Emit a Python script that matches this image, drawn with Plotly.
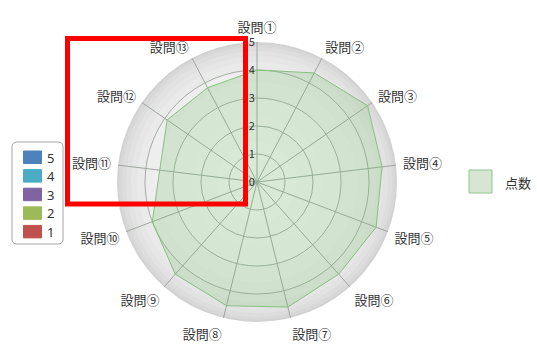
import plotly.graph_objects as go

W, H = 537, 347

# ---- data ----
categories = ["設問①", "設問②", "設問③", "設問④", "設問⑤", "設問⑥", "設問⑦",
              "設問⑧", "設問⑨", "設問⑩", "設問⑪", "設問⑫", "設問⑬"]
scores = [4.0, 4.4, 4.8, 4.5, 4.55, 4.4, 4.6, 4.55, 4.4, 4.0, 3.5, 3.9, 3.8]
series_name = "点数"
radial_ticks = [0, 1, 2, 3, 4, 5]
side_legend_labels = ["5", "4", "3", "2", "1"]
side_legend_colors = ["#4f81bd", "#4bacc6", "#8064a2", "#9bbb59", "#c0504d"]

FONT = "Noto Sans CJK JP, Noto Sans, sans-serif"
TXT = "#333333"

# layout geometry (pixels)
CX, CY, R = 257, 182, 140


def px(x):
    return x / W


def py(y):
    return 1 - y / H


fig = go.Figure()
fig.add_trace(go.Scatterpolar(
    r=scores + scores[:1],
    theta=categories + categories[:1],
    mode="lines",
    fill="toself",
    fillcolor="rgba(125,190,115,0.26)",
    line=dict(color="#86c07e", width=1),
    name=series_name,
    showlegend=False,
    hoverinfo="skip",
))

shapes = []
# radial gradient background disc
grad = [(140, "#d2d2d2"), (138, "#d8d8d8"), (135, "#dddddd"), (131, "#e2e2e2"),
        (126, "#e6e6e6"), (120, "#eaeaea"), (112, "#eeeeee"), (100, "#f1f1f1"),
        (85, "#f4f4f4"), (65, "#f6f6f6"), (40, "#f8f8f8")]
for rr, col in grad:
    shapes.append(dict(type="circle", layer="below",
                       xref="paper", yref="paper",
                       xsizemode="pixel", ysizemode="pixel",
                       xanchor=px(CX), yanchor=py(CY),
                       x0=-rr, x1=rr, y0=-rr, y1=rr,
                       fillcolor=col, line=dict(width=0)))

# right legend swatch
shapes.append(dict(type="rect", xref="paper", yref="paper",
                   x0=px(469), x1=px(492), y0=py(170), y1=py(193),
                   fillcolor="#d6e6d3", line=dict(color="#92c48b", width=1)))

# left legend box (rounded)
bx0, bx1, by0, by1, rad = 12, 63, 142, 244, 5
path = (f"M{px(bx0 + rad)},{py(by0)} L{px(bx1 - rad)},{py(by0)} "
        f"Q{px(bx1)},{py(by0)} {px(bx1)},{py(by0 + rad)} "
        f"L{px(bx1)},{py(by1 - rad)} Q{px(bx1)},{py(by1)} {px(bx1 - rad)},{py(by1)} "
        f"L{px(bx0 + rad)},{py(by1)} Q{px(bx0)},{py(by1)} {px(bx0)},{py(by1 - rad)} "
        f"L{px(bx0)},{py(by0 + rad)} Q{px(bx0)},{py(by0)} {px(bx0 + rad)},{py(by0)} Z")
shapes.append(dict(type="path", xref="paper", yref="paper", path=path,
                   fillcolor="white", line=dict(color="#a6a6a6", width=1)))

annotations = []
for i, (lab, col) in enumerate(zip(side_legend_labels, side_legend_colors)):
    y0 = 151 + i * 18.6
    shapes.append(dict(type="rect", xref="paper", yref="paper",
                       x0=px(23.5), x1=px(41.5), y0=py(y0), y1=py(y0 + 12.5),
                       fillcolor=col, line=dict(color=col, width=1)))
    annotations.append(dict(xref="paper", yref="paper", x=px(46), y=py(y0 + 6.5),
                            text=lab, showarrow=False, xanchor="left", yanchor="middle",
                            borderpad=0,
                            font=dict(family="Noto Sans, sans-serif", size=13, color=TXT)))

annotations.append(dict(xref="paper", yref="paper", x=px(503), y=py(182),
                        text=series_name, showarrow=False, xanchor="left",
                        yanchor="middle", font=dict(family=FONT, size=13, color=TXT)))

# red highlight frame
shapes.append(dict(type="rect", xref="paper", yref="paper", layer="above",
                   x0=px(67.5), x1=px(245.5), y0=py(38.5), y1=py(204),
                   fillcolor="rgba(0,0,0,0)", line=dict(color="#ff0000", width=5)))

fig.update_layout(
    width=W, height=H,
    margin=dict(l=0, r=0, t=0, b=0),
    paper_bgcolor="white",
    showlegend=False,
    font=dict(family=FONT, color=TXT),
    polar=dict(
        domain=dict(x=[px(CX - R), px(CX + R)], y=[py(CY + R), py(CY - R)]),
        bgcolor="rgba(0,0,0,0)",
        gridshape="circular",
        radialaxis=dict(
            range=[0, 5], tickvals=radial_ticks, ticktext=[str(v) for v in radial_ticks],
            angle=90, side="counterclockwise", tickangle=90,
            showline=False, ticks="",
            gridcolor="#a3ada2", gridwidth=1,
            tickfont=dict(family=FONT, size=11, color=TXT),
        ),
        angularaxis=dict(
            type="category", categoryarray=categories,
            direction="clockwise", rotation=90,
            showline=False, ticks="outside", ticklen=4, tickcolor="rgba(0,0,0,0)",
            gridcolor="#9ea69e", gridwidth=1,
            tickfont=dict(family=FONT, size=13, color=TXT),
        ),
    ),
    shapes=shapes,
    annotations=annotations,
)

fig.write_html("out.html")
